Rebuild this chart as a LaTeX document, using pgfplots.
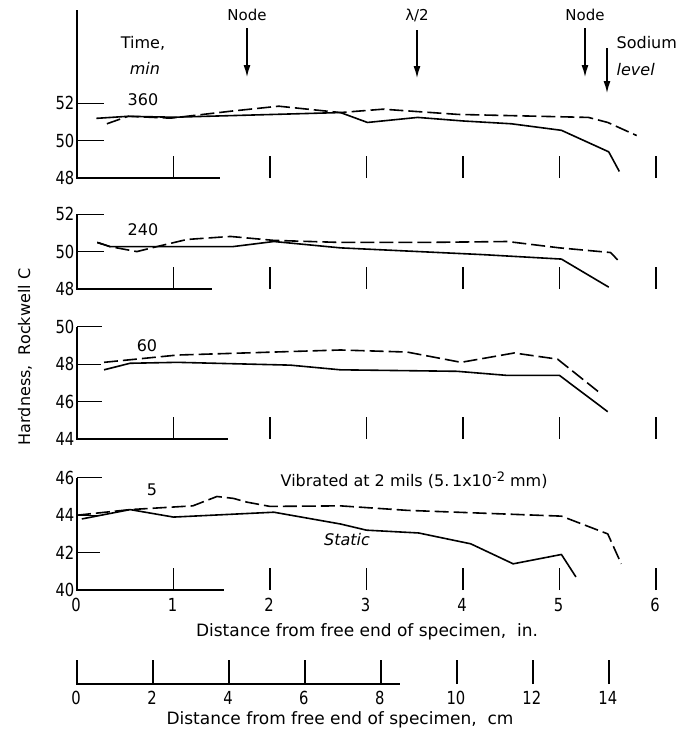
\documentclass[border=0pt]{standalone}
\usepackage{fontspec}
\setmainfont{DejaVu Sans}
\newfontfamily\numfont{DejaVu Sans}[FakeStretch=0.82]
\usepackage{pgfplots}
\pgfplotsset{compat=1.18}
\usetikzlibrary{arrows.meta}

% one panel per heat-treatment time; x in inches, y in Rockwell C
\pgfplotsset{
  panel/.style={hide axis, x=96.5pt, y=18.7pt, xmin=0, xmax=6,
    clip=false, anchor=south west},
  stat/.style={black, line width=1.6pt, line join=round},
  vib/.style={black, line width=1.6pt, line join=round, dash pattern=on 14pt off 5pt},
}
\newcommand{\lbl}{\fontsize{16}{18}\selectfont}
\newcommand{\ttl}{\fontsize{17}{19}\selectfont}
\newcommand{\num}{\numfont\fontsize{18}{20}\selectfont}

\begin{document}
\begin{tikzpicture}
\useasboundingbox (0,0) rectangle (681pt,-736pt);

% 360 min
\begin{axis}[panel, ymin=48, ymax=57.08, at={(77pt,-178pt)}]
\addplot[stat] coordinates {
  (0.2,51.19) (0.53,51.3) (1.0,51.25) (2.04,51.4) (2.73,51.5) (3.01,50.97)
  (3.53,51.24) (4.0,51.05) (4.5,50.9) (5.02,50.55) (5.51,49.4) (5.62,48.35)};
\addplot[vib] coordinates {
  (0.31,50.9) (0.53,51.3) (0.97,51.2) (1.59,51.57) (2.09,51.84) (2.73,51.5)
  (3.17,51.68) (3.95,51.4) (5.3,51.24) (5.5,50.97) (5.8,50.27)};
\end{axis}

% 240 min
\begin{axis}[panel, ymin=48, ymax=52, at={(77pt,-289pt)}]
\addplot[stat] coordinates {
  (0.21,50.49) (0.34,50.27) (1.62,50.27) (2.04,50.54) (2.73,50.2)
  (4.2,49.84) (5.02,49.6) (5.51,48.1)};
\addplot[vib] coordinates {
  (0.21,50.49) (0.34,50.27) (0.62,50.0) (0.83,50.27) (1.14,50.65) (1.59,50.81)
  (2.04,50.6) (2.73,50.49) (3.6,50.49) (4.46,50.54) (5.0,50.2) (5.53,49.95) (5.62,49.46)};
\end{axis}

% 60 min
\begin{axis}[panel, ymin=44, ymax=50, at={(77pt,-439pt)}]
\addplot[stat] coordinates {
  (0.28,47.7) (0.55,48.05) (1.04,48.1) (2.21,47.95) (2.73,47.7)
  (3.94,47.62) (4.46,47.4) (5.0,47.4) (5.5,45.46)};
\addplot[vib] coordinates {
  (0.28,48.1) (1.04,48.49) (2.73,48.76) (3.42,48.65) (3.98,48.1)
  (4.53,48.6) (4.98,48.27) (5.41,46.5)};
\end{axis}

% 5 min
\begin{axis}[panel, ymin=40, ymax=46, at={(77pt,-590pt)}]
\addplot[stat] coordinates {
  (0.05,43.8) (0.55,44.3) (1.0,43.9) (2.04,44.16) (2.73,43.53) (3.0,43.2)
  (3.54,43.05) (4.08,42.47) (4.52,41.4) (5.02,41.9) (5.17,40.7)};
\addplot[vib] coordinates {
  (0.0,44.0) (0.55,44.3) (1.2,44.5) (1.45,45.0) (1.62,44.9) (1.76,44.7)
  (2.0,44.47) (2.73,44.5) (3.42,44.26) (5.02,43.95) (5.5,43.0) (5.64,41.4)};
\end{axis}

\begin{scope}[x=1pt, y=1pt, line width=1.3pt]
  % left axes, short baselines and y ticks
  \draw (77,-10) -- (77,-178) -- (220,-178);
  \draw (77,-103.2) -- (104,-103.2) (77,-140.6) -- (104,-140.6);
  \draw (77,-214.2) -- (77,-289) -- (212,-289);
  \draw (77,-214.2) -- (104,-214.2) (77,-251.6) -- (104,-251.6);
  \draw (77,-326.8) -- (77,-439) -- (228,-439);
  \draw (77,-326.8) -- (102,-326.8) (77,-364.2) -- (101,-364.2) (77,-401.6) -- (102,-401.6);
  \draw (77,-477.8) -- (77,-590) -- (224,-590);
  \draw (77,-477.8) -- (102,-477.8) (77,-515.2) -- (102,-515.2) (77,-552.6) -- (100,-552.6);
  % free-standing inch ticks
  \foreach \b in {178,289,439,590}
    \foreach \k in {1,...,6}
      \draw ({77+96.5*\k},-\b) -- ({77+96.5*\k},{-\b+22});
  % y tick labels
  \foreach \v/\p in {52/103.2,50/140.6,48/178,52/214.2,50/251.6,48/289,
      50/326.8,48/364.2,46/401.6,44/439,46/477.8,44/515.2,42/552.6,40/590}
    \node[anchor=east, inner sep=0pt] at (75,-\p) {\num\v};
  % inch labels
  \foreach \k in {0,...,6}
    \node[inner sep=0pt] at ({76+96.5*\k},-605) {\num\k};
  \node[inner sep=0pt] at (367,-632) {\ttl Distance from free end of specimen,\ \ in.};
  % cm scale
  \draw (77,-660) -- (77,-684) -- (400,-684);
  \foreach \c in {2,4,...,14}
    \draw ({77+37.99*\c},-684) -- ({77+37.99*\c},-660);
  \foreach \c in {0,2,...,14}
    \node[inner sep=0pt] at ({76+37.99*\c},-698) {\num\c};
  \node[inner sep=0pt] at (340,-720) {\ttl Distance from free end of specimen,\ \ cm};
  % y title
  \node[rotate=90, inner sep=0pt] at (25,-357) {\lbl Hardness,\ \ Rockwell C};
  % annotations
  \node[inner sep=0pt] at (143,-43) {\lbl Time,};
  \node[inner sep=0pt] at (145,-68) {\lbl\itshape min};
  \node[inner sep=0pt] at (143,-100) {\lbl 360};
  \node[inner sep=0pt] at (143,-230) {\lbl 240};
  \node[inner sep=0pt] at (147,-346) {\lbl 60};
  \node[inner sep=0pt] at (152,-490) {\lbl 5};
  \node[inner sep=0pt] at (247,-15) {\fontsize{15}{17}\selectfont Node};
  \node[inner sep=0pt] at (417,-15) {\fontsize{15}{17}\selectfont λ/2};
  \node[inner sep=0pt] at (585,-15) {\fontsize{15}{17}\selectfont Node};
  \node[anchor=west, inner sep=0pt] at (616,-43) {\lbl Sodium};
  \node[anchor=west, inner sep=0pt] at (616,-70) {\lbl\itshape level};
  \node[anchor=west, inner sep=0pt] at (280,-480)
    {\lbl Vibrated at 2 mils (5.\,1x10\raisebox{0.6ex}{\fontsize{13}{13}\selectfont -2} mm)};
  \node[inner sep=0pt] at (347,-540) {\lbl\itshape Static};
  \begin{scope}[-{Latex[length=12pt,width=7pt]}]
    \draw (247,-28) -- (247,-77);
    \draw (417,-30) -- (417,-78);
    \draw (585,-28) -- (585,-77);
    \draw (607,-48) -- (607,-93);
  \end{scope}
\end{scope}
\end{tikzpicture}
\end{document}
